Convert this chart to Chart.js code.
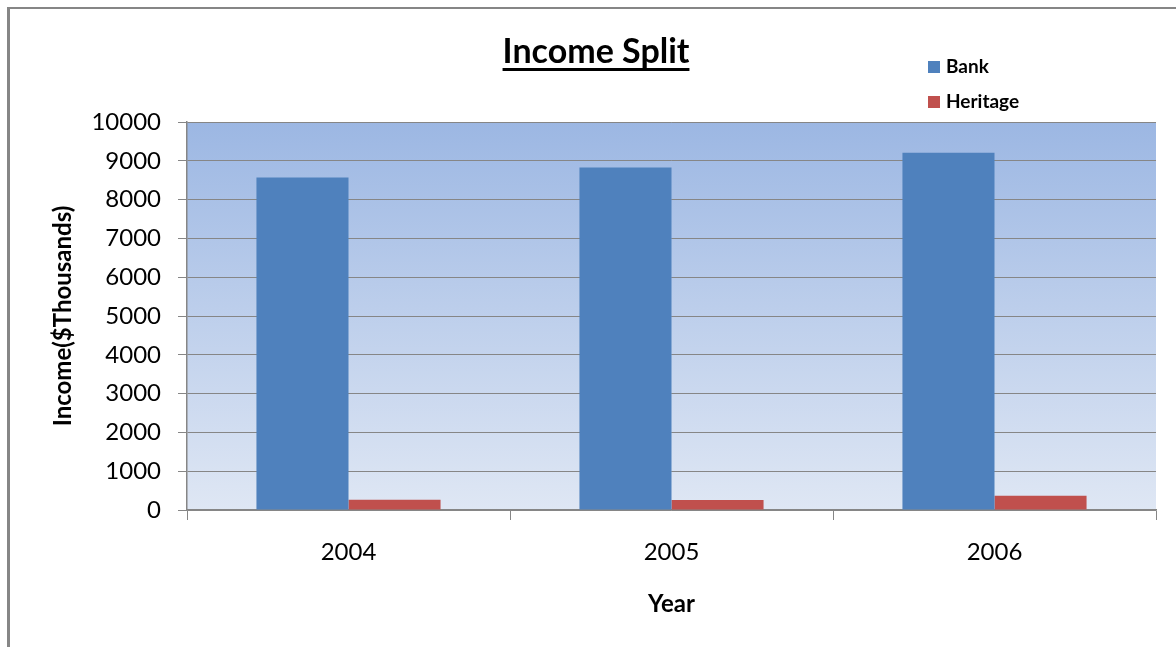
<!DOCTYPE html>
<html>
<head>
<meta charset="utf-8">
<title>Income Split</title>
<script src="https://cdn.jsdelivr.net/npm/chart.js@4/dist/chart.umd.min.js"></script>
<style>
  html, body { margin: 0; padding: 0; background: #ffffff; }
  #wrap { width: 1176px; height: 647px; position: relative; }
</style>
</head>
<body>
<div id="wrap"><canvas id="chart" width="1176" height="647"></canvas></div>
<script>
// Income by year, in $ thousands
const years = ['2004', '2005', '2006'];
const bankIncome = [8570, 8830, 9210];
const heritageIncome = [265, 260, 370];
const seriesNames = ['Bank', 'Heritage'];
const yTicks = [0, 1000, 2000, 3000, 4000, 5000, 6000, 7000, 8000, 9000, 10000];

const FONT = 'Lato, "Open Sans", "DejaVu Sans", sans-serif';
const GRID = '#868686';

// White page, outer frame and gradient fill behind the plot
const backdrop = {
  id: 'backdrop',
  beforeDraw(chart) {
    const { ctx, chartArea: a } = chart;
    ctx.save();
    ctx.fillStyle = '#ffffff';
    ctx.fillRect(0, 0, chart.width, chart.height);
    const g = ctx.createLinearGradient(0, a.top, 0, a.bottom);
    g.addColorStop(0, 'rgb(156,183,227)');
    g.addColorStop(1, 'rgb(223,231,244)');
    ctx.fillStyle = g;
    ctx.fillRect(a.left, a.top, a.right - a.left, a.bottom - a.top);
    ctx.strokeStyle = GRID;
    ctx.lineWidth = 3;
    ctx.beginPath();
    ctx.moveTo(8.5, 7);
    ctx.lineTo(8.5, chart.height);
    ctx.stroke();
    ctx.lineWidth = 2;
    ctx.beginPath();
    ctx.moveTo(7, 8);
    ctx.lineTo(chart.width, 8);
    ctx.stroke();
    ctx.restore();
  }
};

// Underlined title and the square-swatch legend
const decorations = {
  id: 'decorations',
  afterDraw(chart) {
    const { ctx } = chart;
    ctx.save();
    ctx.fillStyle = '#000000';
    ctx.font = 'bold 34px ' + FONT;
    ctx.textAlign = 'center';
    ctx.textBaseline = 'alphabetic';
    const title = 'Income Split';
    const cx = 596, by = 63;
    ctx.fillText(title, cx, by);
    const w = ctx.measureText(title).width;
    ctx.fillRect(cx - w / 2, by + 5, w, 3);

    ctx.font = 'bold 19px ' + FONT;
    ctx.textAlign = 'left';
    ctx.textBaseline = 'middle';
    const rows = [67, 102];
    chart.data.datasets.forEach((ds, i) => {
      ctx.fillStyle = ds.backgroundColor;
      ctx.fillRect(928, rows[i] - 6, 12, 12);
      ctx.fillStyle = '#000000';
      ctx.fillText(ds.label, 946, rows[i]);
    });
    ctx.restore();
  }
};

new Chart(document.getElementById('chart'), {
  type: 'bar',
  data: {
    labels: years,
    datasets: [
      { label: seriesNames[0], data: bankIncome, backgroundColor: '#4F81BD' },
      { label: seriesNames[1], data: heritageIncome, backgroundColor: '#C0504D' }
    ]
  },
  options: {
    responsive: false,
    animation: false,
    devicePixelRatio: 1,
    layout: { padding: { left: 0, top: 122, right: 20, bottom: 0 } },
    datasets: { bar: { categoryPercentage: 0.57, barPercentage: 1.0, borderWidth: 0 } },
    plugins: { legend: { display: false }, title: { display: false }, tooltip: { enabled: false } },
    scales: {
      x: {
        offset: true,
        afterFit(scale) { scale.height = 137; },
        grid: { display: true, drawOnChartArea: false, drawTicks: true, tickLength: 10, color: GRID, lineWidth: 1, offset: true },
        border: { display: true, color: GRID, width: 1.5 },
        ticks: { color: '#000000', font: { family: FONT, size: 24 }, padding: 18 },
        title: { display: true, text: 'Year', color: '#000000', font: { family: FONT, size: 24, weight: 'bold' }, padding: { top: 0, bottom: 28 } }
      },
      y: {
        min: 0,
        max: 10000,
        afterFit(scale) { scale.width = 187; },
        afterBuildTicks(scale) { scale.ticks = yTicks.map(v => ({ value: v })); },
        grid: { color: GRID, lineWidth: 1, tickLength: 9, drawTicks: true },
        border: { display: true, color: GRID, width: 1.5 },
        ticks: { color: '#000000', font: { family: FONT, size: 24 }, padding: 17, callback: v => String(v) },
        title: { display: true, text: 'Income($Thousands)', color: '#000000', font: { family: FONT, size: 24, weight: 'bold' }, padding: { top: 49, bottom: 0 } }
      }
    }
  },
  plugins: [backdrop, decorations]
});
</script>
</body>
</html>
